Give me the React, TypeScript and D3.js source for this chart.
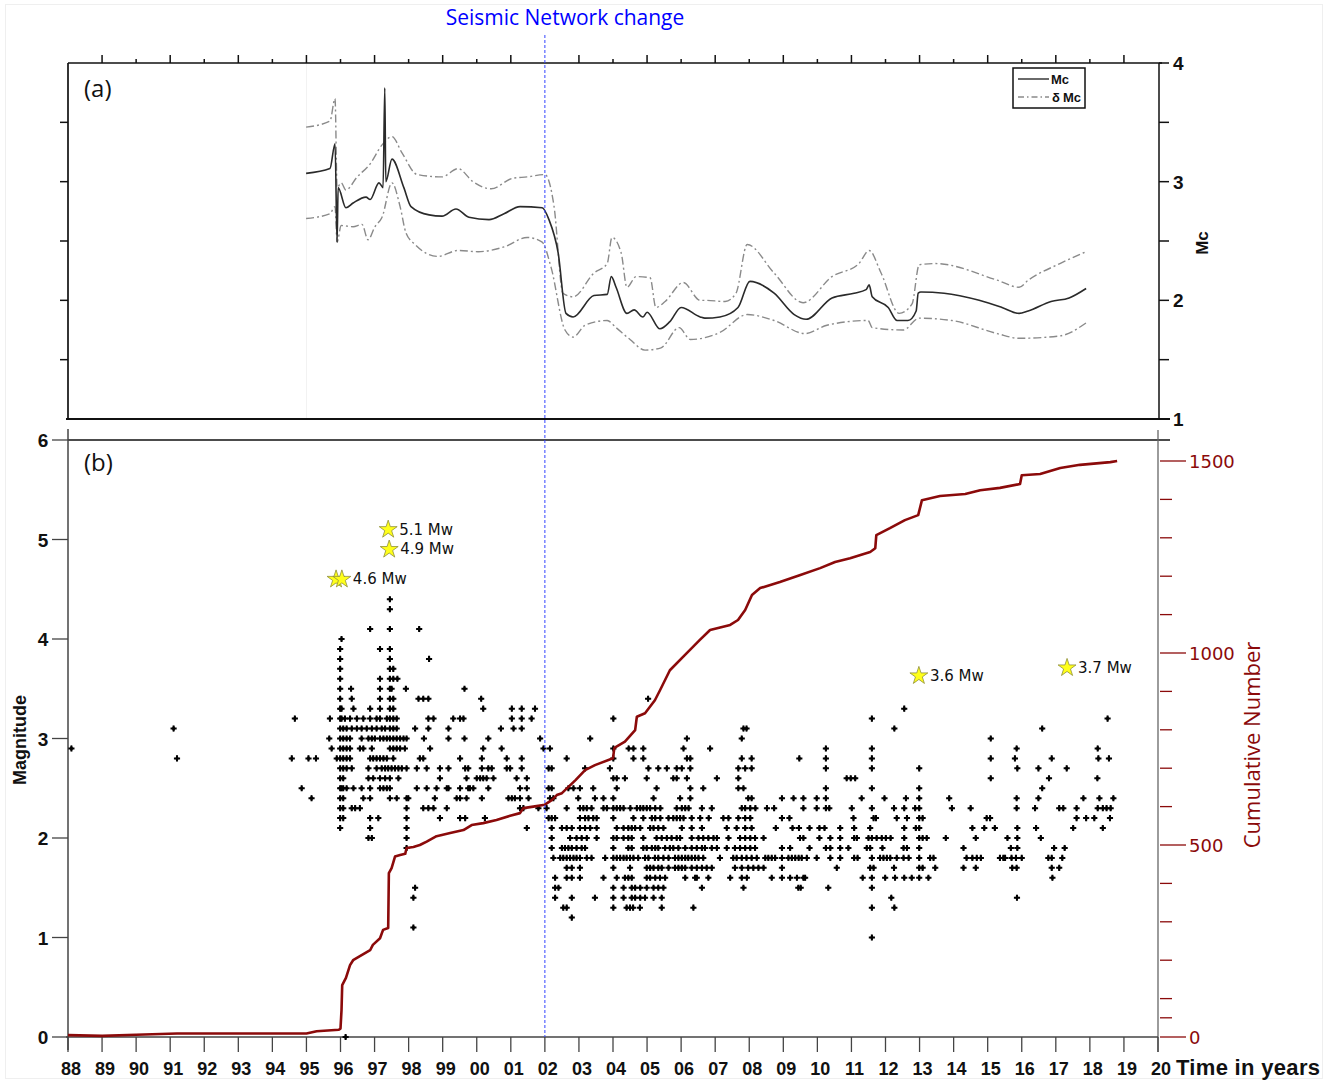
import React from 'react';
import * as d3 from 'd3';

const W = 1338;
const H = 1082;

// ---------- Panel (a): magnitude of completeness ----------
const MC_LINE: [number, number][] = [
  [1994.99, 3.07], [1995.69, 3.11], [1995.84, 3.32], [1995.9, 2.49], [1995.93, 2.95], [1996.16, 2.78],
  [1996.37, 2.82], [1996.75, 2.87], [1996.87, 2.85], [1997.13, 2.99], [1997.25, 2.95], [1997.3, 3.79],
  [1997.33, 3.0], [1997.51, 3.19], [1997.86, 2.95], [1998.07, 2.79], [1998.6, 2.72], [1998.98, 2.71],
  [1999.39, 2.77], [1999.77, 2.7], [2000.36, 2.68], [2000.8, 2.73], [2001.27, 2.79], [2001.92, 2.78],
  [2002.12, 2.68], [2002.39, 2.4], [2002.62, 1.89], [2002.83, 1.86], [2003.44, 2.04], [2003.83, 2.05],
  [2003.95, 2.2], [2004.09, 2.11], [2004.41, 1.89], [2004.62, 1.92], [2004.88, 1.86], [2005.0, 1.9],
  [2005.38, 1.76], [2005.67, 1.82], [2006.0, 1.94], [2006.56, 1.86], [2006.7, 1.85], [2007.14, 1.86],
  [2007.67, 1.94], [2008.02, 2.16], [2008.73, 2.06], [2009.32, 1.88], [2009.67, 1.84], [2010.43, 2.02],
  [2011.08, 2.06], [2011.43, 2.09], [2011.52, 2.13], [2011.61, 2.03], [2012.08, 1.94], [2012.34, 1.83],
  [2012.66, 1.83], [2012.9, 1.91], [2012.96, 2.06], [2013.04, 2.07], [2013.72, 2.06], [2014.75, 2.0],
  [2015.42, 1.94], [2015.92, 1.89], [2016.19, 1.91], [2016.86, 1.99], [2017.39, 2.02], [2017.89, 2.1],
];

const MC_UPPER: [number, number][] = [
  [1994.99, 3.46], [1995.69, 3.51], [1995.84, 3.7], [1995.9, 2.95], [1996.02, 2.99], [1996.16, 2.93],
  [1996.49, 3.04], [1996.87, 3.15], [1997.22, 3.31], [1997.51, 3.38], [1997.81, 3.24], [1998.25, 3.06],
  [1998.98, 3.04], [1999.45, 3.11], [1999.89, 3.0], [2000.42, 2.94], [2001.07, 3.03], [2001.48, 3.04],
  [2002.0, 3.06], [2002.27, 2.79], [2002.53, 2.06], [2002.83, 2.03], [2003.44, 2.23], [2003.83, 2.31],
  [2003.97, 2.53], [2004.24, 2.4], [2004.41, 2.11], [2004.68, 2.2], [2005.09, 2.19], [2005.26, 1.94],
  [2005.53, 1.99], [2006.06, 2.15], [2006.56, 2.0], [2006.7, 2.0], [2007.29, 1.99], [2007.61, 2.06],
  [2007.94, 2.47], [2008.73, 2.23], [2009.58, 1.98], [2010.43, 2.2], [2011.22, 2.31], [2011.52, 2.42],
  [2011.87, 2.23], [2012.4, 1.89], [2012.78, 1.97], [2012.99, 2.3], [2013.46, 2.31], [2015.28, 2.17],
  [2015.92, 2.11], [2016.19, 2.17], [2017.12, 2.31], [2017.89, 2.41],
];

const MC_LOWER: [number, number][] = [
  [1994.99, 2.69], [1995.69, 2.73], [1995.84, 2.79], [1995.9, 2.49], [1996.02, 2.63], [1996.37, 2.62],
  [1996.63, 2.64], [1996.81, 2.51], [1997.01, 2.62], [1997.22, 2.7], [1997.51, 2.99], [1997.75, 2.79],
  [1997.92, 2.57], [1998.19, 2.47], [1998.86, 2.37], [1999.45, 2.42], [2000.04, 2.41], [2000.8, 2.45],
  [2001.48, 2.53], [2001.92, 2.49], [2002.18, 2.28], [2002.59, 1.75], [2002.83, 1.69], [2003.18, 1.79],
  [2003.83, 1.83], [2004.09, 1.77], [2004.5, 1.67], [2004.94, 1.58], [2005.41, 1.6], [2005.94, 1.77],
  [2006.27, 1.67], [2007.14, 1.73], [2007.94, 1.88], [2008.73, 1.83], [2009.64, 1.72], [2010.28, 1.79],
  [2011.49, 1.83], [2011.61, 1.77], [2012.52, 1.75], [2012.99, 1.85], [2013.95, 1.83], [2015.28, 1.72],
  [2015.92, 1.68], [2017.12, 1.7], [2017.89, 1.81],
];

const MC_TICKS = [1, 1.5, 2, 2.5, 3, 3.5, 4];
const MC_LABELS = [1, 2, 3, 4];

// ---------- Panel (b): events and cumulative number ----------
// years written as two-digit year + fraction (88..99 -> 19xx, 00..20 -> 20xx)
const EVENT_MAGNITUDES = [4.4, 4.3, 4.1, 4.0, 3.9, 3.8, 3.7, 3.6, 3.5, 3.4, 3.3, 3.2, 3.1, 3.0, 2.9, 2.8, 2.7, 2.6, 2.5, 2.4, 2.3, 2.2, 2.1, 2.0, 1.9, 1.8, 1.7, 1.6, 1.5, 1.4, 1.3, 1.2, 1.1, 1.0, 0.0];
const EVENT_YEARS = [
  '97.45',
  '97.45',
  '96.87 97.45 98.31',
  '96.03',
  '95.99 97.16 97.45',
  '95.99 97.45 98.60',
  '95.99 97.45 97.55',
  '95.99 97.16 97.45 97.55 97.67',
  '95.99 96.31 97.16 97.45 97.50 97.92 99.64',
  '95.99 96.33 97.16 97.45 97.55 98.29 98.43 98.58 00.13 05.03',
  '95.99 96.03 96.38 96.87 97.16 97.45 97.55 00.19 01.03 01.32 01.71 12.55',
  '94.66 95.69 95.99 96.03 96.13 96.28 96.48 96.67 96.87 97.06 97.16 97.36 97.45 97.55 97.65 98.58 98.73 99.31 99.51 99.61 01.03 01.32 01.61 04.01 11.60 18.52',
  '91.10 95.99 96.08 96.18 96.33 96.48 96.62 96.77 96.92 97.06 97.21 97.31 97.45 97.55 97.65 98.19 98.58 99.17 00.71 01.08 01.32 07.83 07.92 12.26 16.60',
  '95.67 95.99 96.08 96.18 96.28 96.62 96.82 96.92 97.01 97.16 97.26 97.36 97.45 97.55 97.65 97.75 97.85 97.94 98.45 99.17 99.64 00.34 01.86 03.33 06.17 07.78 15.09',
  '88.10 95.74 95.99 96.08 96.18 96.28 96.57 96.67 96.92 97.45 97.55 97.65 97.75 97.89 98.63 00.19 00.73 01.96 02.15 04.01 04.46 04.60 04.89 06.07 06.85 10.25 11.60 15.85 18.23',
  '91.20 94.57 95.06 95.28 95.89 95.99 96.08 96.18 96.28 96.87 96.96 97.06 97.16 97.26 97.36 97.55 98.33 98.43 99.51 00.15 00.88 01.32 02.64 04.01 04.60 04.89 06.17 06.27 07.78 08.07 09.47 10.25 11.60 15.09 15.80 16.88 18.25 18.56',
  '95.99 96.08 96.18 96.33 96.82 97.06 97.21 97.31 97.40 97.50 97.60 97.70 97.80 97.94 98.24 98.53 98.92 99.17 99.66 99.75 00.15 00.34 00.44 00.88 00.98 01.32 02.11 02.20 03.18 03.91 05.04 05.33 05.58 05.87 06.02 06.27 07.68 07.88 08.07 10.25 11.60 12.99 15.87 16.49 17.32',
  '95.99 96.08 96.82 96.96 97.16 97.31 97.45 97.70 98.92 99.70 00.00 00.10 00.19 00.29 00.49 01.17 01.47 04.01 04.11 04.35 04.99 05.77 05.87 06.17 07.05 07.68 10.86 10.98 11.11 15.09 16.80 18.22',
  '94.86 95.99 96.03 96.08 96.18 96.38 96.62 96.87 97.16 97.26 97.36 97.45 98.24 98.53 98.82 99.12 99.17 99.51 99.75 99.80 99.90 00.34 01.27 01.47 02.11 02.20 02.69 02.84 03.03 03.42 04.11 05.28 06.27 06.65 07.68 07.83 10.25 11.60 12.99 16.60',
  '95.15 95.99 96.08 96.67 96.87 97.45 97.65 97.94 97.99 98.77 99.41 99.51 99.70 00.15 00.93 01.03 01.12 01.27 01.52 02.15 02.25 02.98 03.47 03.72 04.01 05.19 05.97 06.27 07.97 08.07 08.96 09.30 09.59 09.98 10.25 11.30 11.97 12.60 12.99 13.87 15.85 16.49 17.81 18.28 18.69',
  '95.99 96.08 96.33 96.43 96.57 97.94 98.43 98.58 98.73 99.12 01.27 01.37 01.81 02.05 02.64 03.03 03.13 03.23 03.37 03.72 03.82 04.01 04.11 04.21 04.31 04.51 04.70 04.80 04.89 04.99 05.09 05.24 05.39 05.87 06.02 06.12 06.22 06.61 06.90 07.78 07.88 08.03 08.18 08.52 08.73 09.59 09.98 10.25 10.35 11.01 11.60 12.25 12.55 12.87 12.99 13.95 14.50 15.85 16.39 17.10 17.22 17.61 18.23 18.38 18.49 18.61',
  '95.99 96.08 96.87 97.11 97.94 98.92 99.51 99.66 00.24 02.11 02.20 02.30 03.03 03.18 03.28 03.42 03.52 04.01 04.60 04.89 05.14 05.24 05.39 05.63 05.77 05.87 05.97 06.07 06.31 06.56 06.81 07.24 07.39 07.68 07.88 08.03 08.96 09.18 11.06 11.65 11.72 12.33 12.63 12.99 13.09 14.97 15.07 17.61 17.89 18.13 18.59',
  '95.99 96.87 97.94 01.47 02.20 02.50 02.64 02.79 03.03 03.18 03.33 03.52 04.11 04.31 04.45 04.55 04.65 04.80 05.09 05.19 05.33 05.48 06.02 06.31 06.61 07.34 07.63 07.88 08.07 08.78 09.27 09.46 09.77 10.06 10.21 10.67 11.08 11.55 12.55 12.89 12.99 14.55 14.90 15.21 15.87 16.42 17.51 18.38',
  '96.82 96.92 97.94 02.20 02.74 02.93 03.08 03.23 03.52 04.01 04.11 04.31 04.45 04.55 04.89 05.28 05.43 05.58 05.72 05.87 05.97 06.31 06.51 06.65 06.80 06.95 07.05 07.39 07.73 07.88 08.03 08.17 08.42 09.49 09.59 10.06 10.38 10.67 11.08 11.16 11.50 11.60 11.74 11.89 12.01 12.15 12.55 12.99 13.09 13.21 13.77 14.65 15.58 15.87 16.56',
  '97.94 02.20 02.50 02.59 02.69 02.79 02.93 03.08 03.18 04.01 04.45 04.55 04.89 04.99 05.14 05.24 05.33 05.53 05.67 05.77 05.92 06.12 06.31 06.46 06.61 06.70 06.90 07.05 07.34 07.58 07.73 07.88 08.03 08.17 08.96 09.20 09.77 10.25 10.38 10.67 10.91 11.45 11.55 11.91 12.53 12.63 12.99 14.29 15.68 15.87 16.95 17.26',
  '02.25 02.45 02.54 02.64 02.74 02.84 02.93 03.03 03.23 03.37 03.77 04.01 04.11 04.21 04.31 04.40 04.50 04.60 04.74 04.94 05.04 05.23 05.33 05.48 05.63 05.82 05.92 06.02 06.12 06.21 06.31 06.41 06.51 06.65 07.14 07.53 07.63 07.78 07.92 08.07 08.22 08.47 08.56 08.66 08.76 08.96 09.15 09.25 09.35 09.45 09.54 09.69 09.98 10.38 10.67 11.08 11.18 11.60 11.84 11.94 12.04 12.14 12.33 12.53 12.68 12.99 13.31 13.41 14.38 14.55 14.68 14.80 15.36 15.46 15.51 15.70 15.83 16.00 16.78 16.88 17.19',
  '02.64 02.79 03.03 04.01 04.50 04.99 05.09 05.19 05.33 05.43 05.63 05.82 05.92 06.02 06.12 06.31 06.46 06.61 06.75 06.90 07.58 07.78 07.97 08.12 08.27 08.42 08.96 10.57 11.55 11.65 12.25 12.99 13.09 13.46 14.29 14.65 15.72 15.85 16.88 17.10',
  '02.30 02.64 02.79 03.03 03.72 04.11 04.35 04.45 04.55 04.99 05.09 05.24 05.38 05.53 06.12 06.41 06.46 06.80 07.44 07.78 07.93 08.66 08.96 09.20 09.40 09.59 09.64 11.33 11.60 11.99 12.28 12.55 12.77 12.99 13.26 16.90',
  '98.19 02.30 02.40 04.01 04.31 04.55 04.65 04.80 04.99 05.19 05.33 05.48 06.61 07.83 09.44 09.51 10.32 11.60',
  '98.14 02.30 02.79 03.47 04.01 04.31 04.55 04.65 04.80 04.94 05.19 05.43 12.17 15.86',
  '02.54 02.64 04.01 04.40 04.50 04.59 04.79 05.43 06.36 11.60 12.26',
  '02.79',
  '98.14',
  '11.60',
  '96.15',
];

const CUMULATIVE: [number, number][] = [
  [1988.0, 5], [1989.0, 3], [1990.0, 6], [1991.2, 9], [1995.0, 9], [1995.3, 15], [1995.95, 19], [1996.0, 22],
  [1996.03, 70], [1996.05, 135], [1996.16, 154], [1996.28, 187], [1996.37, 200], [1996.87, 226], [1996.95, 240],
  [1997.16, 257], [1997.25, 279], [1997.4, 284], [1997.42, 427], [1997.5, 440], [1997.6, 470], [1997.75, 474],
  [1997.9, 477], [1997.94, 492], [1998.14, 495], [1998.33, 500], [1998.53, 509], [1998.82, 523], [1999.22, 531],
  [1999.61, 539], [1999.85, 552], [2000.19, 557], [2000.58, 565], [2000.98, 576], [2001.27, 583], [2001.37, 596],
  [2001.66, 600], [2002.0, 605], [2002.2, 617], [2002.35, 630], [2002.5, 635], [2002.9, 669], [2003.18, 695],
  [2003.47, 708], [2004.0, 726], [2004.04, 753], [2004.35, 769], [2004.65, 799], [2004.7, 834], [2004.94, 843],
  [2005.23, 877], [2005.38, 903], [2005.67, 955], [2006.1, 994], [2006.26, 1008], [2006.55, 1034], [2006.85, 1060],
  [2007.44, 1073], [2007.67, 1086], [2007.88, 1112], [2008.08, 1151], [2008.32, 1169], [2008.9, 1185],
  [2009.5, 1203], [2010.08, 1221], [2010.52, 1237], [2010.96, 1247], [2011.55, 1263], [2011.7, 1273],
  [2011.73, 1307], [2012.13, 1325], [2012.57, 1346], [2012.96, 1359], [2013.07, 1398], [2013.6, 1409],
  [2014.34, 1414], [2014.78, 1424], [2015.36, 1430], [2015.95, 1440], [2016.0, 1463], [2016.54, 1466],
  [2017.13, 1482], [2017.71, 1490], [2018.6, 1497], [2018.8, 1500],
];

const MAIN_SHOCKS: { year: number; mag: number; label: string; showLabel: boolean }[] = [
  { year: 1997.4, mag: 5.1, label: '5.1 Mw', showLabel: true },
  { year: 1997.43, mag: 4.9, label: '4.9 Mw', showLabel: true },
  { year: 1995.87, mag: 4.6, label: '4.6 Mw', showLabel: false },
  { year: 1996.04, mag: 4.6, label: '4.6 Mw', showLabel: true },
  { year: 2012.98, mag: 3.63, label: '3.6 Mw', showLabel: true },
  { year: 2017.33, mag: 3.71, label: '3.7 Mw', showLabel: true },
];

const YEARS = d3.range(1988, 2021);
const MAG_TICKS = [0, 1, 2, 3, 4, 5, 6];
const CUM_MAJOR = [0, 500, 1000, 1500];
const CUM_MINOR = [50, 100, 200, 300, 400, 600, 700, 800, 900, 1100, 1200, 1300, 1400];
const NETWORK_CHANGE_YEAR = 2002;

const parseYear = (s: string) => {
  const v = parseFloat(s);
  return v >= 50 ? 1900 + v : 2000 + v;
};

const BOLD = "'Liberation Sans', Arial, sans-serif";
const OPEN = "'Open Sans', 'Noto Sans', sans-serif";
const DEJAVU = "'DejaVu Sans', Verdana, sans-serif";
const DARKRED = '#8b0a0a';

export default function App() {
  const x = d3.scaleLinear().domain([1988, 2020]).range([68, 1158]);
  const yMc = d3.scaleLinear().domain([1, 4]).range([419, 63]);
  const yMag = d3.scaleLinear().domain([0, 6]).range([1037, 440]);
  const yCum = d3.scaleLinear().domain([0, 1500]).range([1037, 461]);

  const mcLine = d3.line<[number, number]>().x((d) => x(d[0])).y((d) => yMc(d[1])).curve(d3.curveMonotoneX);
  const cumLine = d3.line<[number, number]>().x((d) => x(d[0])).y((d) => yCum(d[1]));

  const cross = d3.symbol().type(d3.symbolCross).size(21)() as string;
  const diamond = d3.symbol().type(d3.symbolDiamond).size(11)() as string;
  const star = d3.symbol().type(d3.symbolStar).size(100)() as string;

  const events: { year: number; mag: number }[] = [];
  EVENT_MAGNITUDES.forEach((m, i) => {
    EVENT_YEARS[i].split(/\s+/).filter(Boolean).forEach((s) => events.push({ year: parseYear(s), mag: m }));
  });

  const xl = x(NETWORK_CHANGE_YEAR);

  return (
    <svg width={W} height={H} viewBox={`0 0 ${W} ${H}`} style={{ position: 'absolute', left: 0, top: 0, background: '#fff' }}>
      <rect x={0} y={0} width={W} height={H} fill="#fff" />
      <rect x={5.5} y={4.5} width={1317} height={1074} fill="none" stroke="#efefef" />

      {/* ---------------- Panel (a) ---------------- */}
      <line x1={x(1995)} x2={x(1995)} y1={63} y2={419} stroke="#f2f2f2" />
      <line x1={68} x2={1162} y1={63} y2={63} stroke="#111" strokeWidth={1.7} />
      <line x1={68} x2={68} y1={63} y2={419} stroke="#111" strokeWidth={1.7} />
      <line x1={1159} x2={1159} y1={63} y2={419} stroke="#111" strokeWidth={1.5} />
      <line x1={66} x2={1170} y1={419} y2={419} stroke="#111" strokeWidth={2.2} />
      {YEARS.filter((yv) => yv > 1988 && yv < 2020 && yv !== NETWORK_CHANGE_YEAR).map((yv) => (
        <line key={`tt${yv}`} x1={x(yv)} x2={x(yv)} y1={63} y2={yv % 2 === 1 ? 55 : 59} stroke="#111" strokeWidth={1.5} />
      ))}
      {MC_TICKS.filter((t) => t > 1 && t < 4).map((t) => (
        <line key={`lt${t}`} x1={60} x2={68} y1={yMc(t)} y2={yMc(t)} stroke="#111" strokeWidth={1.5} />
      ))}
      {MC_TICKS.map((t) => (
        <line key={`rt${t}`} x1={1159} x2={1169} y1={yMc(t)} y2={yMc(t)} stroke="#111" strokeWidth={1.5} />
      ))}
      {MC_LABELS.map((t) => (
        <text key={`rl${t}`} x={1173} y={yMc(t) + 7} fontFamily={BOLD} fontWeight="bold" fontSize={19} fill="#111">{t}</text>
      ))}
      <text transform={`translate(1208,243) rotate(-90)`} textAnchor="middle" fontFamily={BOLD} fontWeight="bold" fontSize={17} fill="#111">Mc</text>
      <text x={84} y={97} fontFamily={OPEN} fontSize={24} fill="#111">(a)</text>

      <path d={mcLine(MC_UPPER) || ''} fill="none" stroke="#8a8a8a" strokeWidth={1.4} strokeDasharray="8,3,2,3" />
      <path d={mcLine(MC_LOWER) || ''} fill="none" stroke="#8a8a8a" strokeWidth={1.4} strokeDasharray="8,3,2,3" />
      <path d={mcLine(MC_LINE) || ''} fill="none" stroke="#2a2a2a" strokeWidth={1.6} strokeLinejoin="round" />

      {/* legend */}
      <rect x={1013} y={68} width={72} height={40} fill="#fff" stroke="#111" strokeWidth={1.5} />
      <line x1={1018} x2={1049} y1={79} y2={79} stroke="#2a2a2a" strokeWidth={1.4} />
      <text x={1051} y={84} fontFamily={BOLD} fontWeight="bold" fontSize={13} fill="#111" textLength={18}>Mc</text>
      <line x1={1018} x2={1049} y1={97} y2={97} stroke="#8a8a8a" strokeWidth={1.3} strokeDasharray="6,3,1.5,3" />
      <text x={1052} y={102} fontFamily={BOLD} fontWeight="bold" fontSize={13} fill="#111" textLength={29}>δ Mc</text>

      {/* ---------------- Panel (b) ---------------- */}
      <line x1={68} x2={1170} y1={440} y2={440} stroke="#111" strokeWidth={1.7} />
      <line x1={68} x2={68} y1={429} y2={1050} stroke="#444" strokeWidth={1.5} />
      <line x1={1158} x2={1158} y1={430} y2={1052} stroke="#666" strokeWidth={1.3} />
      <line x1={66} x2={1158} y1={1037} y2={1037} stroke="#444" strokeWidth={1.5} />

      {MAG_TICKS.map((t) => (
        <g key={`mt${t}`}>
          <line x1={52} x2={68} y1={yMag(t)} y2={yMag(t)} stroke="#444" strokeWidth={1.3} />
          <text x={43} y={yMag(t) + 7} textAnchor="middle" fontFamily={BOLD} fontWeight="bold" fontSize={19} fill="#111">{t}</text>
        </g>
      ))}
      <text transform={`translate(26,740) rotate(-90)`} textAnchor="middle" fontFamily={BOLD} fontWeight="bold" fontSize={18} fill="#111">Magnitude</text>
      <text x={84} y={471} fontFamily={OPEN} fontSize={24} fill="#111">(b)</text>

      {YEARS.map((yv) => (
        <g key={`bt${yv}`}>
          <line x1={x(yv)} x2={x(yv)} y1={1037} y2={1052} stroke="#444" strokeWidth={1.3} />
          <text x={x(yv) + 3} y={1075} textAnchor="middle" fontFamily={BOLD} fontWeight="bold" fontSize={18} fill="#111">
            {String(yv % 100).padStart(2, '0')}
          </text>
        </g>
      ))}
      <text x={1176} y={1075} fontFamily={BOLD} fontWeight="bold" fontSize={22} fill="#111" textLength={144}>Time in years</text>

      {/* cumulative axis */}
      {CUM_MAJOR.map((t) => (
        <g key={`cm${t}`}>
          <line x1={1160} x2={1186} y1={yCum(t)} y2={yCum(t)} stroke={DARKRED} strokeWidth={1.3} />
          <text x={1189} y={yCum(t) + 7} fontFamily={DEJAVU} fontSize={18} fill={DARKRED}>{t}</text>
        </g>
      ))}
      {CUM_MINOR.map((t) => (
        <line key={`cn${t}`} x1={1160} x2={1172} y1={yCum(t)} y2={yCum(t)} stroke={DARKRED} strokeWidth={1.3} />
      ))}
      <text transform={`translate(1260,745) rotate(-90)`} textAnchor="middle" fontFamily={OPEN} fontSize={22} fill={DARKRED}>Cumulative Number</text>

      {/* events */}
      {events.map((e, i) => (
        <g key={`ev${i}`} transform={`translate(${x(e.year)},${yMag(e.mag)})`}>
          <path d={cross} fill="#000" />
          <path d={diamond} fill="#000" />
        </g>
      ))}

      {/* cumulative number curve */}
      <path d={cumLine(CUMULATIVE) || ''} fill="none" stroke={DARKRED} strokeWidth={2.6} strokeLinejoin="round" />

      {/* main shocks */}
      {MAIN_SHOCKS.map((s, i) => (
        <g key={`ms${i}`}>
          <path d={star} transform={`translate(${x(s.year)},${yMag(s.mag)})`} fill="#ffff1a" stroke="#8f8f3a" strokeWidth={0.8} />
          {s.showLabel && (
            <text x={x(s.year) + 11} y={yMag(s.mag) + 5} fontFamily={DEJAVU} fontSize={15} fill="#111">{s.label}</text>
          )}
        </g>
      ))}

      {/* network change */}
      <line x1={xl} x2={xl} y1={35} y2={1037} stroke="#3344ff" strokeWidth={1} strokeDasharray="3,2" />
      <text x={565} y={25} textAnchor="middle" fontFamily={OPEN} fontSize={21} fill="#0000ff">Seismic Network change</text>
    </svg>
  );
}
